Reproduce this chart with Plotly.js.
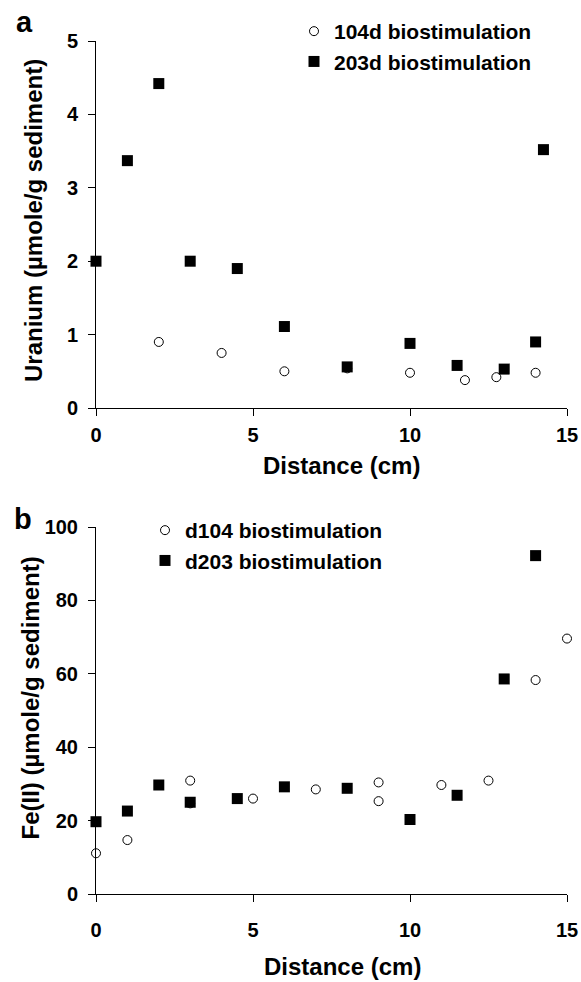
<!DOCTYPE html>
<html><head><meta charset="utf-8">
<script src="https://cdn.plot.ly/plotly-3.0.1.min.js"></script>
<style>html,body{margin:0;padding:0;background:#fff}</style>
</head><body><div id="chart" style="width:581px;height:982px"></div>
<script>
// ---- Data ----
// Panel a: Uranium
const uDist104 = [2, 4, 6, 8, 10, 11.75, 12.75, 14];
const uVal104  = [0.90, 0.75, 0.50, 0.54, 0.48, 0.38, 0.42, 0.48];
const uDist203 = [0, 1, 2, 3, 4.5, 6, 8, 10, 11.5, 13, 14, 14.25];
const uVal203  = [2.00, 3.37, 4.42, 2.00, 1.90, 1.11, 0.56, 0.88, 0.58, 0.53, 0.90, 3.52];
// Panel b: Fe(II)
const feDist104 = [0, 1, 3, 3, 5, 7, 9, 9, 11, 12.5, 14, 15];
const feVal104  = [11.1, 14.7, 30.9, 24.7, 26.0, 28.5, 30.4, 25.3, 29.7, 30.9, 58.3, 69.6];
const feDist203 = [0, 1, 2, 3, 4.5, 6, 8, 10, 11.5, 13, 14];
const feVal203  = [19.7, 22.6, 29.7, 25.0, 26.0, 29.2, 28.8, 20.3, 26.9, 58.6, 92.2];
// Labels
const seriesNamesA = ['104d biostimulation', '203d biostimulation'];
const seriesNamesB = ['d104 biostimulation', 'd203 biostimulation'];
const xTitle = 'Distance (cm)';
const yTitleA = 'Uranium (\u00b5mole/g sediment)';
const yTitleB = 'Fe(II) (\u00b5mole/g sediment)';
const panelLetters = ['a', 'b'];

// ---- Layout helpers ----
const W = 581, H = 982;
const px = v => v / W;
const py = v => 1 - v / H;
const FAM = 'Liberation Sans, Arial, Helvetica, sans-serif';
const tickFont = {family: FAM, size: 20, color: '#000', weight: 'bold'};

const openCircle = {symbol: 'circle', size: 9, color: '#fff', line: {color: '#000', width: 1}};
const filledSquare = {symbol: 'square', size: 11, color: '#000', line: {width: 0}};

const traces = [
  {x: uDist104, y: uVal104, name: seriesNamesA[0], type: 'scatter', mode: 'markers',
   marker: openCircle, xaxis: 'x', yaxis: 'y', legend: 'legend', cliponaxis: false},
  {x: uDist203, y: uVal203, name: seriesNamesA[1], type: 'scatter', mode: 'markers',
   marker: filledSquare, xaxis: 'x', yaxis: 'y', legend: 'legend', cliponaxis: false},
  {x: feDist104, y: feVal104, name: seriesNamesB[0], type: 'scatter', mode: 'markers',
   marker: openCircle, xaxis: 'x2', yaxis: 'y2', legend: 'legend2', cliponaxis: false},
  {x: feDist203, y: feVal203, name: seriesNamesB[1], type: 'scatter', mode: 'markers',
   marker: filledSquare, xaxis: 'x2', yaxis: 'y2', legend: 'legend2', cliponaxis: false}
];

const axisBase = {
  showline: true, linecolor: '#000', linewidth: 1, mirror: false,
  showgrid: false, zeroline: false,
  ticks: 'outside', ticklen: 7, tickwidth: 1, tickcolor: '#000',
  tickfont: tickFont, fixedrange: true
};

const legendBase = {
  font: {family: FAM, size: 21, color: '#000', weight: 'bold'},
  bgcolor: 'rgba(0,0,0,0)', borderwidth: 0,
  xanchor: 'left', yanchor: 'top', orientation: 'v'
};

const annFont = s => ({family: FAM, size: s, color: '#000', weight: 'bold'});

const layout = {
  width: W, height: H,
  margin: {l: 0, r: 0, t: 0, b: 0, pad: 0},
  paper_bgcolor: '#fff', plot_bgcolor: 'rgba(0,0,0,0)',
  showlegend: true,
  xaxis: Object.assign({}, axisBase, {domain: [px(96), px(567)], range: [0, 15], tick0: 0, dtick: 5,
    anchor: 'y', ticklabelstandoff: 2}),
  yaxis: Object.assign({}, axisBase, {domain: [py(408), py(41)], range: [0, 5], tick0: 0, dtick: 1,
    anchor: 'x', ticklabelstandoff: 6}),
  xaxis2: Object.assign({}, axisBase, {domain: [px(96), px(567)], range: [0, 15], tick0: 0, dtick: 5,
    anchor: 'y2', ticklabelstandoff: 11}),
  yaxis2: Object.assign({}, axisBase, {domain: [py(894), py(527)], range: [0, 100], tick0: 0, dtick: 20,
    anchor: 'x2', ticklabelstandoff: 6}),
  legend: Object.assign({}, legendBase, {x: px(294), y: py(11)}),
  legend2: Object.assign({}, legendBase, {x: px(145), y: py(510)}),
  annotations: [
    {text: panelLetters[0], x: px(24), y: py(22), xref: 'paper', yref: 'paper',
     xanchor: 'center', yanchor: 'middle', showarrow: false, font: annFont(29)},
    {text: panelLetters[1], x: px(23), y: py(519), xref: 'paper', yref: 'paper',
     xanchor: 'center', yanchor: 'middle', showarrow: false, font: annFont(29)},
    {text: xTitle, x: px(341), y: py(465), xref: 'paper', yref: 'paper',
     xanchor: 'center', yanchor: 'middle', showarrow: false, font: annFont(24)},
    {text: xTitle, x: px(342), y: 0, xref: 'paper', yref: 'paper',
     xanchor: 'center', yanchor: 'bottom', showarrow: false, font: annFont(24)},
    {text: yTitleA, x: px(34), y: py(221), xref: 'paper', yref: 'paper', textangle: -90,
     xanchor: 'center', yanchor: 'middle', showarrow: false, font: annFont(24)},
    {text: yTitleB, x: px(30), y: py(698.5), xref: 'paper', yref: 'paper', textangle: -90,
     xanchor: 'center', yanchor: 'middle', showarrow: false, font: annFont(24)}
  ]
};

Plotly.newPlot('chart', traces, layout, {staticPlot: true, displayModeBar: false});
</script></body></html>
